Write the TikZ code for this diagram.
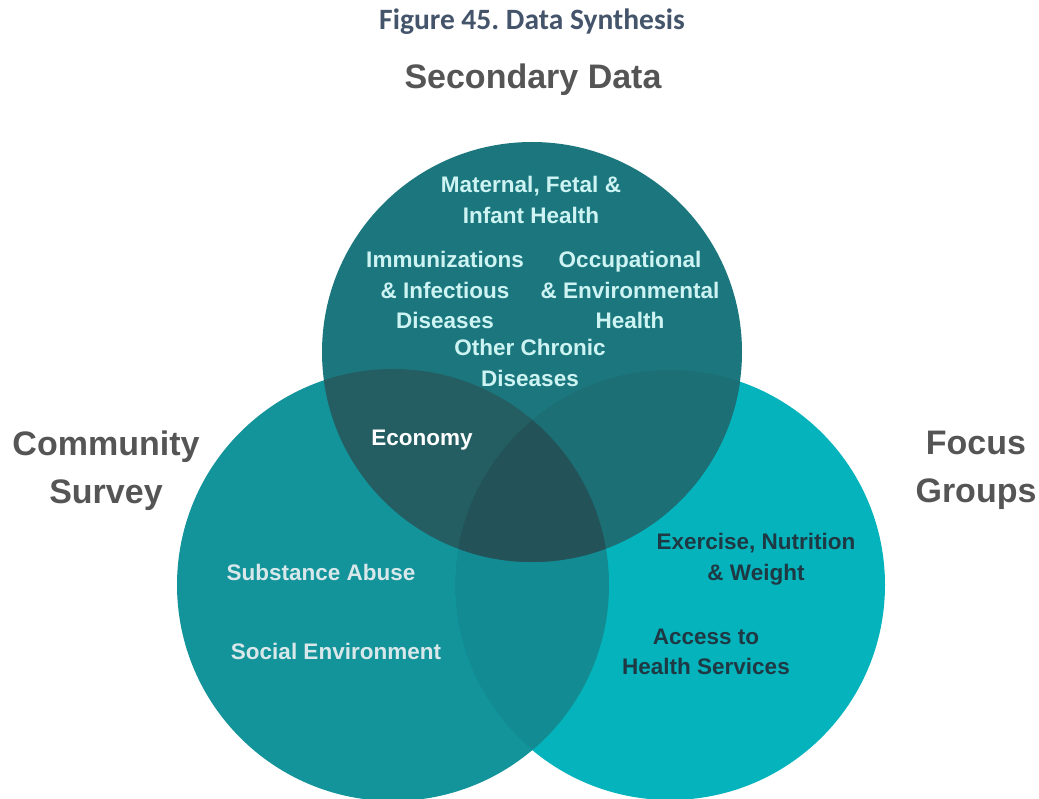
\documentclass[tikz,border=0pt]{standalone}
\usepackage{fontspec}
\setmainfont{Liberation Sans}
\newfontfamily\titlefont{Carlito}
\frenchspacing
\definecolor{ctop}{HTML}{1B777D}
\definecolor{cleft}{HTML}{13939A}
\definecolor{cright}{HTML}{04B3BB}
\definecolor{ctl}{HTML}{245E62}
\definecolor{ctr}{HTML}{1C6F75}
\definecolor{clr}{HTML}{138B92}
\definecolor{cmid}{HTML}{235358}
\definecolor{toptext}{HTML}{CDF3F3}
\definecolor{lighttext}{HTML}{D8E8EA}
\definecolor{darktext}{HTML}{1F3944}
\definecolor{headgray}{HTML}{555555}
\definecolor{titleblue}{HTML}{44546A}
\tikzset{
  inlabel/.style={font=\bfseries\fontsize{22.5}{30.5}\selectfont, align=center, inner sep=0pt},
  toplabel/.style={inlabel, text=toptext},
  leftlabel/.style={inlabel, text=lighttext},
  rightlabel/.style={inlabel, text=darktext},
  heading/.style={font=\bfseries\fontsize{34}{48}\selectfont, text=headgray, align=center, inner sep=0pt}
}
\begin{document}
\begin{tikzpicture}[x=1pt,y=-1pt]
\useasboundingbox (0,0) rectangle (1039,799);
\def\topc{(532,352) circle (210)}
\def\leftc{(393,585) circle (216)}
\def\rightc{(670,585) circle (215)}
\fill[cleft] \leftc;
\fill[cright] \rightc;
\fill[ctop] \topc;
\begin{scope}\clip \leftc; \fill[clr] \rightc; \end{scope}
\begin{scope}\clip \topc; \fill[ctl] \leftc; \end{scope}
\begin{scope}\clip \topc; \fill[ctr] \rightc; \end{scope}
\begin{scope}\clip \topc; \clip \leftc; \fill[cmid] \rightc; \end{scope}

\node[font=\titlefont\bfseries\fontsize{29.5}{34}\selectfont, text=titleblue, inner sep=0pt] (title) at (532,22) {Figure 45. Data Synthesis};
\node[heading] (sec) at (533,80) {Secondary Data};
\node[heading] (comm) at (106,471) {Community\\Survey};
\node[heading] (focus) at (976,470) {Focus\\Groups};

\node[toplabel] (mat) at (531,200) {Maternal, Fetal \&\\Infant Health};
\node[toplabel] (imm) at (445,290) {Immunizations\\\& Infectious\\Diseases};
\node[toplabel] (occ) at (630,290) {Occupational\\\& Environmental\\Health};
\node[toplabel] (oth) at (530,363) {Other Chronic\\Diseases};
\node[inlabel, text=white] (eco) at (422,440) {Economy};
\node[leftlabel] (sub) at (321,572) {Substance Abuse};
\node[leftlabel] (soc) at (336,651) {Social Environment};
\node[rightlabel] (exe) at (756,559) {Exercise, Nutrition\\\& Weight};
\node[rightlabel] (acc) at (706,652) {Access to\\Health Services};
\end{tikzpicture}
\end{document}
